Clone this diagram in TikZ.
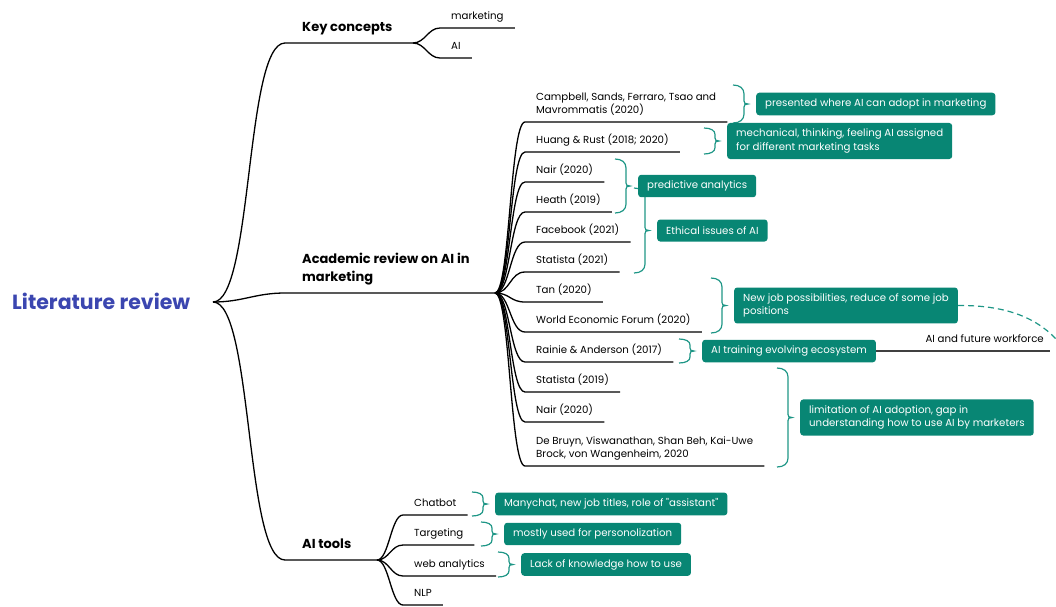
\documentclass[tikz,border=0pt]{standalone}
\usepackage{fontspec}
\setmainfont{Poppins}
\usetikzlibrary{arrows.meta, positioning}
\usepackage{xcolor}

\definecolor{mapteal}{RGB}{8,134,116}
\definecolor{braceteal}{RGB}{30,150,134}
\definecolor{rootblue}{RGB}{59,70,176}

\newcommand{\leaffont}{\fontsize{10.2}{13.5}\selectfont}
\newcommand{\headfont}{\bfseries\fontsize{13}{18}\selectfont}
\newcommand{\straightquote}{\XeTeXglyph\XeTeXcharglyph"22\relax}

% summary bracket: x, top, bottom, name of its tip
\newcommand{\sumbrace}[4]{%
  \pgfmathsetmacro{\bmid}{(#2+#3)/2}%
  \pgfmathsetmacro{\bq}{min(9,(#3-#2)/4)}%
  \draw[sumline] (#1,#2) .. controls (#1+7,#2) and (#1+11,#2+0.4*\bq) .. (#1+11,#2+\bq)
    -- (#1+11,\bmid-3) .. controls (#1+11,\bmid-1) and (#1+12,\bmid) .. (#1+15,\bmid)
    .. controls (#1+12,\bmid) and (#1+11,\bmid+1) .. (#1+11,\bmid+3)
    -- (#1+11,#3-\bq) .. controls (#1+11,#3-0.4*\bq) and (#1+7,#3) .. (#1,#3);
  \coordinate (#4) at (#1+15,\bmid);
}

\begin{document}
\begin{tikzpicture}[ % one unit is one pixel of the layout, y runs downwards
        x=1pt, y=-1pt,
        rootlabel/.style={anchor=base west, inner sep=0pt, text=rootblue,
            font=\bfseries\fontsize{20.5}{24}\selectfont}, % central topic
        heading/.style={anchor=south west, inner xsep=17pt, inner ysep=11pt,
            text depth=0pt, align=left, font=\headfont}, % main branches
        leaf/.style={anchor=south west, inner xsep=11pt, inner ysep=8pt,
            text depth=0pt, align=left, font=\leaffont}, % sub topics
        tbox/.style={fill=mapteal, text=white, rounded corners=3pt, inner xsep=9pt,
            inner ysep=6pt, minimum height=22pt, align=left, font=\leaffont}, % summaries
        branch/.style={draw=black, line width=1.3pt},
        sumline/.style={draw=braceteal, line width=1.2pt},
        grayline/.style={draw=black!75, line width=1.2pt},
        jumplink/.style={draw=braceteal, line width=1.2pt, dash pattern=on 6pt off 4pt,
            -{Latex[length=7pt,width=6pt]}},
        fan/.style={out=0, in=180, distance=#1},
        fan/.default=15pt
    ]
    \useasboundingbox (0,0) rectangle (1056,606);

    % --- central topic and main branches ---
    \node[rootlabel] (root) at (12,309) {Literature review};
    \coordinate (rootpt) at (213,302);
    \node[heading] (key) at (285,43) {Key concepts};
    \node[heading] (acad) at (285,293) {Academic review on AI in\\marketing};
    \node[heading] (tools) at (285,560) {AI tools};
    \coordinate (khub) at (413,43);
    \coordinate (ahub) at (495,293);
    \coordinate (thub) at (377,560);

    % --- sub topics ---
    \node[leaf] (mkt) at (440,28) {marketing};
    \node[leaf] (ai) at (440,58) {AI};

    \node[leaf] (camp) at (525,122) {Campbell, Sands, Ferraro, Tsao and\\Mavrommatis (2020)};
    \node[leaf] (huang) at (525,152) {Huang \& Rust (2018; 2020)};
    \node[leaf] (nairA) at (525,182) {Nair (2020)};
    \node[leaf] (heath) at (525,212) {Heath (2019)};
    \node[leaf] (fb) at (525,242) {Facebook (2021)};
    \node[leaf] (statA) at (525,272) {Statista (2021)};
    \node[leaf] (tan) at (525,302) {Tan (2020)};
    \node[leaf] (wef) at (525,332) {World Economic Forum (2020)};
    \node[leaf] (rainie) at (525,362) {Rainie \& Anderson (2017)};
    \node[leaf] (statB) at (525,392) {Statista (2019)};
    \node[leaf] (nairB) at (525,422) {Nair (2020)};
    \node[leaf] (bruyn) at (525,466) {De Bruyn, Viswanathan, Shan Beh, Kai-Uwe\\Brock, von Wangenheim, 2020};

    \node[leaf] (chat) at (403,515) {Chatbot};
    \node[leaf] (targ) at (403,545) {Targeting};
    \node[leaf] (web) at (403,576) {web analytics};
    \node[leaf] (nlp) at (403,605) {NLP};

    % --- branch lines ---
    \draw[branch] (rootpt) to[fan=40pt] (key.south west) -- (khub);
    \draw[branch] (rootpt) to[fan=30pt] (acad.south west) -- (ahub);
    \draw[branch] (rootpt) to[fan=40pt] (tools.south west) -- (thub);
    \foreach \n in {mkt, ai}
        \draw[branch] (khub) to[fan=12pt] (\n.south west) -- (\n.south east);
    \foreach \n in {camp, huang, nairA, heath, fb, statA, tan, wef, rainie, statB, nairB, bruyn}
        \draw[branch] (ahub) to[fan] (\n.south west) -- (\n.south east);
    \foreach \n in {chat, targ, web, nlp}
        \draw[branch] (thub) to[fan=12pt] (\n.south west) -- (\n.south east);

    % --- summaries ---
    \sumbrace{733}{85}{123}{tcamp}
    \sumbrace{704}{128}{154}{thuang}
    \sumbrace{615}{159}{213}{tpred}
    \sumbrace{634}{188}{273}{teth}
    \sumbrace{711}{278}{333}{tjob}
    \sumbrace{679}{339}{363}{ttrain}
    \sumbrace{777}{368}{467}{tlim}
    \sumbrace{472}{492}{516}{tchat}
    \sumbrace{481}{522}{546}{ttarg}
    \sumbrace{498}{552}{577}{tweb}

    \node[tbox, right=8pt of tcamp] (pres) {presented where AI can adopt in marketing};
    \node[tbox, right=8pt of thuang] (mech) {mechanical, thinking, feeling AI assigned\\for different marketing tasks};
    \node[tbox, right=8pt of tpred] (pred) {predictive analytics};
    \node[tbox, right=8pt of teth] (eth) {Ethical issues of AI};
    \node[tbox, right=8pt of tjob] (job) {New job possibilities, reduce of some job\\positions};
    \node[tbox, right=8pt of ttrain] (train) {AI training evolving ecosystem};
    \node[tbox, right=8pt of tlim] (lim) {limitation of AI adoption, gap in\\understanding how to use AI by marketers};
    \node[tbox, right=8pt of tchat] (many) {Manychat, new job titles, role of \straightquote assistant\straightquote};
    \node[tbox, right=8pt of ttarg] (pers) {mostly used for personolization};
    \node[tbox, right=8pt of tweb] (know) {Lack of knowledge how to use};

    % --- workforce link ---
    \node[leaf, anchor=south east, inner xsep=6pt] (future) at (1050,351) {AI and future workforce};
    \draw[grayline] (train.east) -- (future.south east);
    \coordinate (offpage) at (1064,348);
    \draw[jumplink] (job.east) .. controls (1010,305) and (1040,320) .. (offpage);
\end{tikzpicture}
\end{document}
